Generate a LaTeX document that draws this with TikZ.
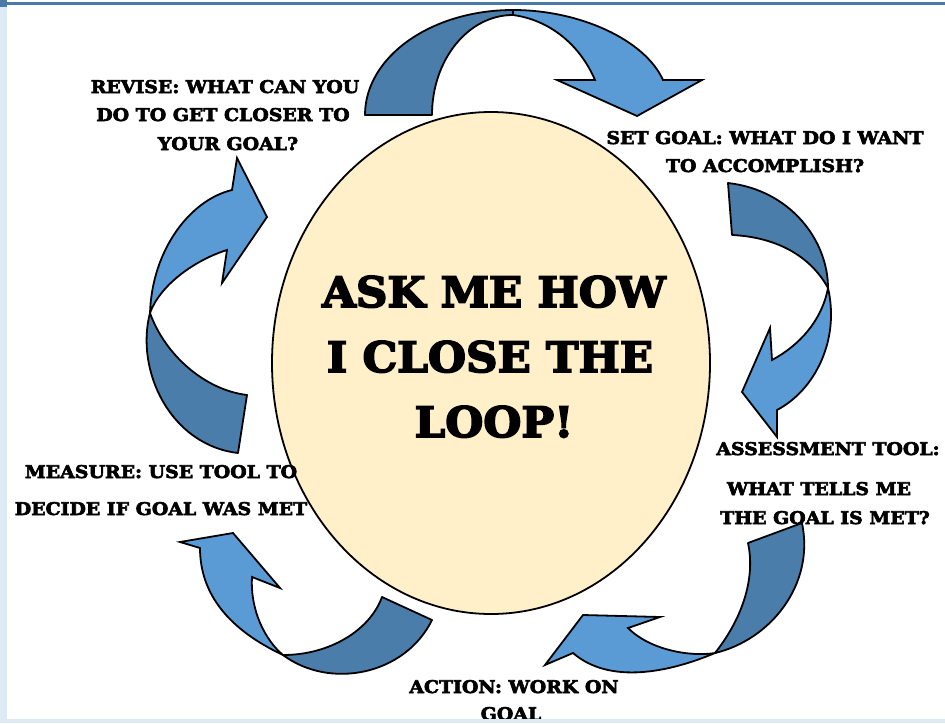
\documentclass[tikz,border=0pt]{standalone}
\usepackage{fontspec}
\setmainfont{DejaVu Serif}
\newfontfamily\lblfont{DejaVu Serif}[UprightFont={* Bold}, FakeStretch=1.08, FakeBold=3.5]
\newfontfamily\bigfont{DejaVu Serif}[UprightFont={* Bold}, FakeStretch=1.04, FakeBold=4]
\definecolor{darkband}{HTML}{4A7DAA}
\definecolor{lightband}{HTML}{5B9BD5}
\definecolor{cream}{HTML}{FFF0C9}
\definecolor{framelight}{HTML}{DDE9F5}
\definecolor{framedark}{HTML}{4A7AA8}
\begin{document}
\begin{tikzpicture}[x=1pt,y=-1pt,
  back/.style={fill=darkband,draw=black,line width=1.8pt,line join=round},
  front/.style={fill=lightband,draw=black,line width=1.8pt,line join=miter},
  lbl/.style={font=\lblfont\fontsize{17.5}{20}\selectfont,anchor=base,inner sep=0pt},
  big/.style={font=\bigfont\fontsize{42}{46}\selectfont,anchor=base,inner sep=0pt}]
\useasboundingbox (0,0) rectangle (945,723);
\fill[white] (0,0) rectangle (945,723);

% central ellipse
\draw[fill=cream,line width=1.8pt] (491,363) ellipse [x radius=219, y radius=251];
\node[big] (c1) at (494,307) {ASK ME HOW};
\node[big] (c2) at (490,372) {I CLOSE THE};
\node[big] (c3) at (494,437) {LOOP!};

% top arrow
\filldraw[back] (365,115) .. controls (365,57) and (431,10) .. (513,10)
  -- (513,15) .. controls (468,15) and (432,60) .. (432,115) -- cycle;
\filldraw[front] (513,10) .. controls (580,10) and (645,40) .. (663,80)
  -- (702,80) -- (637,116) -- (557,80) -- (595,80)
  .. controls (580,45) and (550,20) .. (513,15) -- cycle;

% right arrow
\filldraw[back] (728,183) .. controls (790,190) and (828,240) .. (828,288)
  .. controls (810,255) and (775,237) .. (732,235) -- cycle;
\filldraw[front] (828,288) .. controls (840,340) and (815,390) .. (777,410)
  -- (777,437) -- (742,392) -- (770,328) -- (772,360)
  .. controls (800,345) and (822,320) .. (828,288) -- cycle;

% bottom-right arrow
\filldraw[back] (802,523) .. controls (815,585) and (770,640) .. (715,653)
  .. controls (745,615) and (755,575) .. (748,543) -- cycle;
\filldraw[front] (715,653) .. controls (670,672) and (610,685) .. (573,653)
  -- (545,665) -- (583,615) -- (660,617) -- (628,628)
  .. controls (650,650) and (690,657) .. (715,653) -- cycle;

% bottom-left arrow
\filldraw[back] (432,620) .. controls (405,675) and (330,690) .. (283,655)
  .. controls (330,655) and (370,630) .. (382,597) -- cycle;
\filldraw[front] (283,655) .. controls (230,630) and (200,595) .. (200,548)
  -- (180,542) -- (233,533) -- (280,588) -- (252,577)
  .. controls (250,610) and (265,640) .. (283,655) -- cycle;

% left arrow
\filldraw[back] (238,453) .. controls (170,445) and (135,370) .. (150,313)
  .. controls (165,355) and (205,390) .. (247,395) -- cycle;
\filldraw[front] (150,313) .. controls (152,250) and (190,200) .. (232,190)
  -- (237,158) -- (267,217) -- (222,283) -- (227,250)
  .. controls (195,260) and (160,285) .. (150,313) -- cycle;

% labels
\node[lbl] (r1) at (225,93) {REVISE: WHAT CAN YOU};
\node[lbl] (r2) at (223,121) {DO TO GET CLOSER TO};
\node[lbl] (r3) at (228,150) {YOUR GOAL?};
\node[lbl] (s1) at (765,144) {SET GOAL: WHAT DO I WANT};
\node[lbl] (s2) at (765,172) {TO ACCOMPLISH?};
\node[lbl] (a1) at (828,455) {ASSESSMENT TOOL:};
\node[lbl] (a2) at (819,495) {WHAT TELLS ME};
\node[lbl] (a3) at (825,524) {THE GOAL IS MET?};
\node[lbl] (m1) at (161,478) {MEASURE: USE TOOL TO};
\node[lbl] (m2) at (161,515) {DECIDE IF GOAL WAS MET};
\node[lbl] (ac1) at (514,693) {ACTION: WORK ON};
\node[lbl] (ac2) at (511,720) {GOAL};

% frame
\fill[framelight] (0,0) rectangle (7,723);
\fill[framelight] (0,719) rectangle (945,723);
\fill[framedark] (0,2) rectangle (945,5);
\fill[framedark] (0,0) rectangle (7,7);
\end{tikzpicture}
\end{document}
